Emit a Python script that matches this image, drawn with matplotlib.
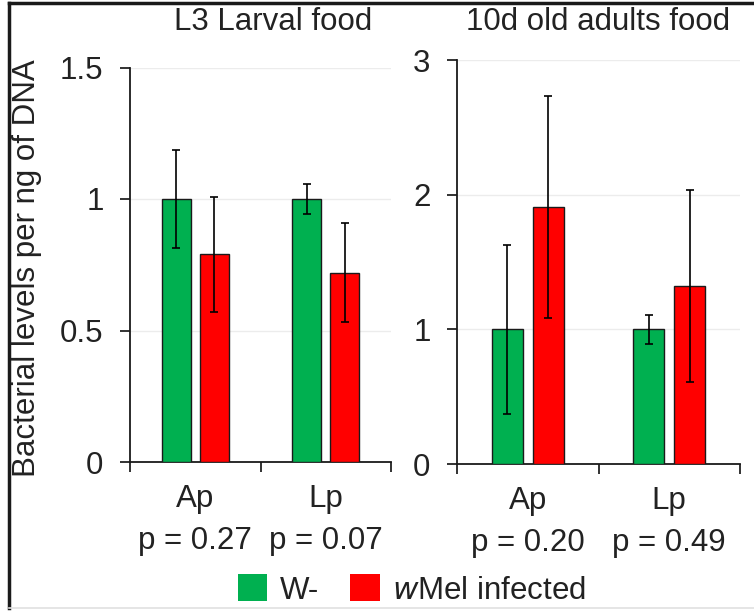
import matplotlib
matplotlib.use('Agg')
import matplotlib.pyplot as plt
from matplotlib.patches import Patch
from matplotlib.lines import Line2D

plt.rcParams['font.family'] = ['Liberation Sans', 'DejaVu Sans']
plt.rcParams['text.color'] = '#222222'
plt.rcParams['xtick.color'] = '#222222'
plt.rcParams['ytick.color'] = '#222222'

# data
groups = ['Ap', 'Lp']
larval_p = ['0.27', '0.07']
adult_p = ['0.20', '0.49']

larval_w = [1.0, 1.0]
larval_w_err = [0.186, 0.057]
larval_wmel = [0.79, 0.72]
larval_wmel_err = [0.218, 0.187]

adult_w = [1.0, 1.0]
adult_w_err = [0.626, 0.11]
adult_wmel = [1.906, 1.324]
adult_wmel_err = [0.825, 0.714]

green = '#00B050'
red = '#FF0000'
fs = 22.5

fig = plt.figure(figsize=(7.54, 6.11), dpi=100)
ax1 = fig.add_axes([130/754, 1 - 462/611, 261/754, 394.5/611])
ax2 = fig.add_axes([457/754, 1 - 464/611, 283/754, 404/611])


def draw_panel(ax, w, w_err, wm, wm_err, pvals, ymax, yticks, yticklabels):
    centers = [0.5, 1.5]
    width = 0.222
    off = 0.145
    err_kw = dict(ecolor='black', elinewidth=1.2, capsize=3, capthick=1.2)
    ax.bar([c - off for c in centers], w, width, yerr=w_err, color=green,
           edgecolor='#1a1a1a', linewidth=1, error_kw=err_kw, zorder=3)
    ax.bar([c + off for c in centers], wm, width, yerr=wm_err, color=red,
           edgecolor='#1a1a1a', linewidth=1, error_kw=err_kw, zorder=3)
    ax.set_xlim(0, 2)
    ax.set_ylim(0, ymax)
    ax.set_yticks(yticks)
    ax.set_yticklabels(yticklabels, fontsize=fs)
    for yv in yticks[1:]:
        ax.axhline(yv, color='#ececec', lw=1, zorder=0)
    # category boundaries as major ticks, labels as minor ticks
    ax.set_xticks([0, 1, 2])
    ax.set_xticklabels([])
    ax.set_xticks(centers, minor=True)
    ax.set_xticklabels([f'{g}\np = {p}' for g, p in zip(groups, pvals)],
                       minor=True, fontsize=fs, linespacing=1.5)
    ax.tick_params(axis='x', which='major', direction='out', length=7, width=1.3)
    ax.tick_params(axis='x', which='minor', length=0, pad=16)
    ax.tick_params(axis='y', direction='out', length=7, width=1.3, pad=12)
    for s in ['top', 'right']:
        ax.spines[s].set_visible(False)
    for s in ['left', 'bottom']:
        ax.spines[s].set_linewidth(1.3)
        ax.spines[s].set_color('#1a1a1a')


draw_panel(ax1, larval_w, larval_w_err, larval_wmel, larval_wmel_err,
           larval_p, 1.5, [0, 0.5, 1, 1.5], ['0', '0.5', '1', '1.5'])
draw_panel(ax2, adult_w, adult_w_err, adult_wmel, adult_wmel_err,
           adult_p, 3, [0, 1, 2, 3], ['0', '1', '2', '3'])

fig.text(273/754, 1 - 22/611, 'L3 Larval food', ha='center', va='center', fontsize=fs)
fig.text(598/754, 1 - 22/611, '10d old adults food', ha='center', va='center', fontsize=fs)
fig.text(27/754, 1 - 268/611, 'Bacterial levels per ng of DNA', rotation=90,
         ha='center', va='center', fontsize=fs)

handles = [Patch(facecolor=green, edgecolor='none'), Patch(facecolor=red, edgecolor='none')]
fig.legend(handles, ['W-', r'$\it{w}$Mel infected'], loc='center', ncol=2,
           bbox_to_anchor=(412/754, 1 - 590/611), frameon=False, fontsize=fs,
           handlelength=0.95, handleheight=0.95, handletextpad=0.4, columnspacing=1.0)

# figure frame (top and left dark, bottom light)
fig.add_artist(Line2D([9/754, 1], [1 - 3/611, 1 - 3/611], color='#1a1a1a', lw=2.5))
fig.add_artist(Line2D([9/754, 9/754], [1 - 3/611, 1 - 608/611], color='#1a1a1a', lw=2.5))
fig.add_artist(Line2D([9/754, 1], [1 - 608/611, 1 - 608/611], color='#e0e0e0', lw=1.2))

fig.savefig('out.png', dpi=100)
